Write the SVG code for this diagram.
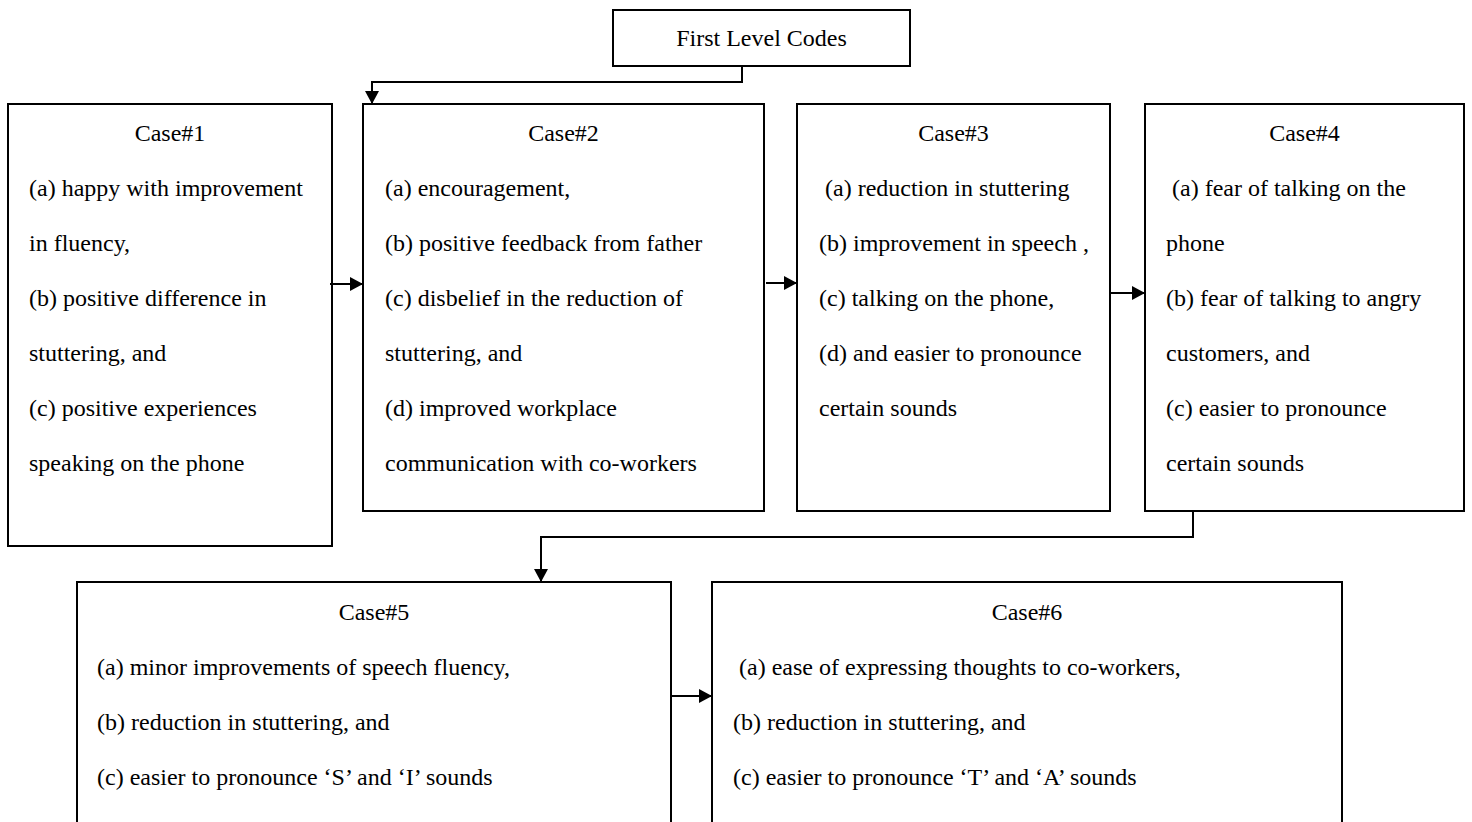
<svg xmlns="http://www.w3.org/2000/svg" width="1472" height="822" viewBox="0 0 1472 822">
  <style>
    .box { fill: #ffffff; stroke: #000000; stroke-width: 2; }
    .txt { font-family: "Liberation Serif", "Times New Roman", serif; font-size: 24px; fill: #000000; }
    .mid { text-anchor: middle; }
    .link { fill: none; stroke: #000000; stroke-width: 2; }
  </style>
  <defs>
    <marker id="head" markerUnits="userSpaceOnUse" markerWidth="14" markerHeight="14" refX="13" refY="7" orient="auto">
      <path d="M0,0 L13,7 L0,14 Z" fill="#000000"/>
    </marker>
  </defs>

  <rect width="1472" height="822" fill="#ffffff"/>

  <!-- header -->
  <g id="first-level-codes">
    <rect class="box" x="613" y="10" width="297" height="56"/>
    <text class="txt mid" x="761.5" y="46">First Level Codes</text>
  </g>

  <!-- top row -->
  <g id="case1">
    <rect class="box" x="8" y="104" width="324" height="442"/>
    <text class="txt mid" x="170" y="141">Case#1</text>
    <text class="txt" x="29" y="196">(a) happy with improvement</text>
    <text class="txt" x="29" y="251">in fluency,</text>
    <text class="txt" x="29" y="306">(b) positive difference in</text>
    <text class="txt" x="29" y="361">stuttering, and</text>
    <text class="txt" x="29" y="416">(c) positive experiences</text>
    <text class="txt" x="29" y="471">speaking on the phone</text>
  </g>

  <g id="case2">
    <rect class="box" x="363" y="104" width="401" height="407"/>
    <text class="txt mid" x="563.5" y="141">Case#2</text>
    <text class="txt" x="385" y="196">(a) encouragement,</text>
    <text class="txt" x="385" y="251">(b) positive feedback from father</text>
    <text class="txt" x="385" y="306">(c) disbelief in the reduction of</text>
    <text class="txt" x="385" y="361">stuttering, and</text>
    <text class="txt" x="385" y="416">(d) improved workplace</text>
    <text class="txt" x="385" y="471">communication with co-workers</text>
  </g>

  <g id="case3">
    <rect class="box" x="797" y="104" width="313" height="407"/>
    <text class="txt mid" x="953.5" y="141">Case#3</text>
    <text class="txt" x="825" y="196">(a) reduction in stuttering</text>
    <text class="txt" x="819" y="251">(b) improvement in speech ,</text>
    <text class="txt" x="819" y="306">(c) talking on the phone,</text>
    <text class="txt" x="819" y="361">(d) and easier to pronounce</text>
    <text class="txt" x="819" y="416">certain sounds</text>
  </g>

  <g id="case4">
    <rect class="box" x="1145" y="104" width="319" height="407"/>
    <text class="txt mid" x="1304.5" y="141">Case#4</text>
    <text class="txt" x="1172" y="196">(a) fear of talking on the</text>
    <text class="txt" x="1166" y="251">phone</text>
    <text class="txt" x="1166" y="306">(b) fear of talking to angry</text>
    <text class="txt" x="1166" y="361">customers, and</text>
    <text class="txt" x="1166" y="416">(c) easier to pronounce</text>
    <text class="txt" x="1166" y="471">certain sounds</text>
  </g>

  <!-- bottom row -->
  <g id="case5">
    <rect class="box" x="77" y="582" width="594" height="260"/>
    <text class="txt mid" x="374" y="620">Case#5</text>
    <text class="txt" x="97" y="675">(a) minor improvements of speech fluency,</text>
    <text class="txt" x="97" y="730">(b) reduction in stuttering, and</text>
    <text class="txt" x="97" y="785">(c) easier to pronounce ‘S’ and ‘I’ sounds</text>
  </g>

  <g id="case6">
    <rect class="box" x="712" y="582" width="630" height="260"/>
    <text class="txt mid" x="1027" y="620">Case#6</text>
    <text class="txt" x="739" y="675">(a) ease of expressing thoughts to co-workers,</text>
    <text class="txt" x="733" y="730">(b) reduction in stuttering, and</text>
    <text class="txt" x="733" y="785">(c) easier to pronounce ‘T’ and ‘A’ sounds</text>
  </g>

  <!-- connectors -->
  <g id="connectors">
    <path class="link" d="M742,66 V82 H372 V104" marker-end="url(#head)"/>
    <path class="link" d="M330,284 H363" marker-end="url(#head)"/>
    <path class="link" d="M766,283 H797" marker-end="url(#head)"/>
    <path class="link" d="M1110,293 H1145" marker-end="url(#head)"/>
    <path class="link" d="M1193,511 V537 H541 V582" marker-end="url(#head)"/>
    <path class="link" d="M671,696 H712" marker-end="url(#head)"/>
  </g>
</svg>
